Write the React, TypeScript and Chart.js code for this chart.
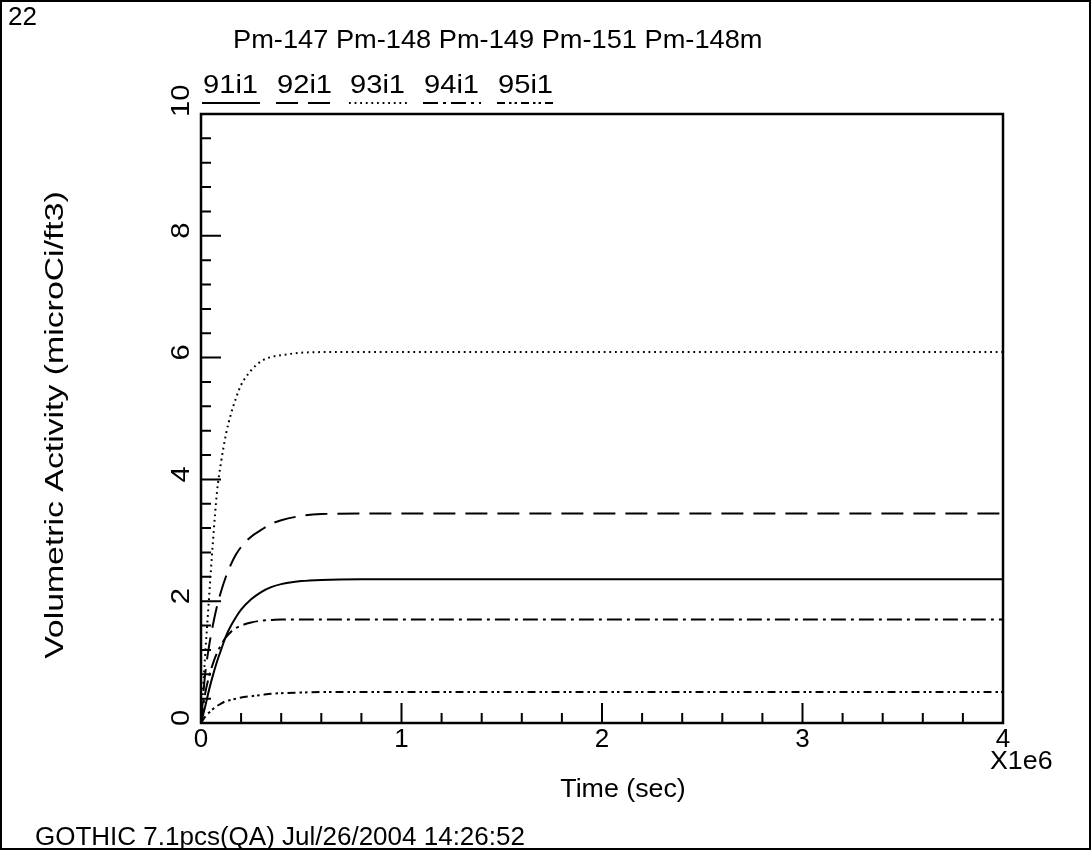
import { useEffect, useRef } from "react";
import { Chart, registerables } from "chart.js";

Chart.register(...registerables);

// Time points (sec) shared by all five curves
const timeSec = [
  0, 2e4, 4e4, 6e4, 8e4, 1e5, 1.25e5, 1.5e5, 1.75e5, 2e5, 2.5e5, 3e5, 3.5e5,
  4e5, 5e5, 6e5, 8e5, 1e6, 2e6, 3e6, 4e6,
];

// Volumetric activity (microCi/ft3)
const act91i1 = [
  0, 0.26, 0.54, 0.79, 1.01, 1.2, 1.43, 1.6, 1.74, 1.86, 2.03, 2.15, 2.23,
  2.28, 2.33, 2.35, 2.36, 2.36, 2.36, 2.36, 2.36,
];
const act92i1 = [
  0, 0.78, 1.26, 1.62, 1.92, 2.16, 2.41, 2.61, 2.77, 2.89, 3.06, 3.17, 3.27,
  3.33, 3.4, 3.43, 3.44, 3.44, 3.44, 3.44, 3.44,
];
const act93i1 = [
  0, 1.08, 2.05, 3.0, 3.8, 4.28, 4.75, 5.08, 5.34, 5.55, 5.79, 5.94, 6.01,
  6.04, 6.08, 6.09, 6.09, 6.09, 6.09, 6.09, 6.09,
];
const act94i1 = [
  0, 0.47, 0.76, 0.98, 1.15, 1.28, 1.41, 1.5, 1.56, 1.6, 1.65, 1.68, 1.69,
  1.7, 1.7, 1.7, 1.7, 1.7, 1.7, 1.7, 1.7,
];
const act95i1 = [
  0, 0.1, 0.17, 0.23, 0.28, 0.32, 0.36, 0.38, 0.4, 0.42, 0.44, 0.46, 0.48,
  0.49, 0.5, 0.51, 0.51, 0.51, 0.51, 0.51, 0.51,
];

const seriesNames = ["91i1", "92i1", "93i1", "94i1", "95i1"];
const seriesValues = [act91i1, act92i1, act93i1, act94i1, act95i1];
const seriesDashes: number[][] = [
  [],
  [22, 10],
  [1.8, 3.8],
  [15, 5, 3, 5],
  [8, 4, 2.5, 3, 2.5, 4],
];

const plotTitle = "Pm-147 Pm-148 Pm-149 Pm-151 Pm-148m";
const xAxisTitle = "Time (sec)";
const yAxisTitle = "Volumetric Activity (microCi/ft3)";
const xScaleNote = "X1e6";
const pageNumber = "22";
const footerText = "GOTHIC 7.1pcs(QA) Jul/26/2004 14:26:52";

const xMajorTicks = [0, 1, 2, 3, 4]; // in units of 1e6 sec
const yMajorTicks = [0, 2, 4, 6, 8, 10];
const xMinorStep = 0.2;
const yMinorStep = 0.4;

const FONT = '26px "Liberation Sans", Arial, sans-serif';

// draws text with a horizontal stretch factor along its own baseline
function stretchedText(
  ctx: CanvasRenderingContext2D,
  text: string,
  x: number,
  y: number,
  sx: number,
  align: CanvasTextAlign,
  angle = 0
) {
  ctx.save();
  ctx.translate(x, y);
  if (angle) ctx.rotate(angle);
  ctx.scale(sx, 1);
  ctx.textAlign = align;
  ctx.fillText(text, 0, 0);
  ctx.restore();
}

const decorations = {
  id: "gothicDecorations",
  beforeDraw(chart: Chart) {
    const ctx = chart.ctx;
    ctx.save();
    ctx.fillStyle = "#fff";
    ctx.fillRect(0, 0, chart.width, chart.height);
    ctx.restore();
  },
  afterDraw(chart: Chart) {
    const ctx = chart.ctx;
    const xs = chart.scales.x;
    const ys = chart.scales.y;
    const area = chart.chartArea;
    ctx.save();
    ctx.strokeStyle = "#000";
    ctx.fillStyle = "#000";

    // page frame
    ctx.lineWidth = 2;
    ctx.strokeRect(1, 1, chart.width - 3, chart.height - 3);

    // plot frame
    ctx.lineWidth = 2.5;
    ctx.strokeRect(area.left, area.top, area.right - area.left, area.bottom - area.top);

    // ticks (drawn inward)
    ctx.lineWidth = 2;
    ctx.beginPath();
    for (let v = 0; v <= 4 + 1e-9; v += xMinorStep) {
      const major = Math.abs(v - Math.round(v)) < 1e-6;
      const px = xs.getPixelForValue(v * 1e6);
      ctx.moveTo(px, area.bottom);
      ctx.lineTo(px, area.bottom - (major ? 20 : 10));
    }
    for (let v = 0; v <= 10 + 1e-9; v += yMinorStep) {
      const major = Math.abs(v / 2 - Math.round(v / 2)) < 1e-6;
      const py = ys.getPixelForValue(v);
      ctx.moveTo(area.left, py);
      ctx.lineTo(area.left + (major ? 20 : 10), py);
    }
    ctx.stroke();

    ctx.font = FONT;
    ctx.textBaseline = "alphabetic";

    // x tick labels
    for (const v of xMajorTicks) {
      stretchedText(ctx, String(v), xs.getPixelForValue(v * 1e6), area.bottom + 24, 1, "center");
    }
    stretchedText(ctx, xScaleNote, area.right - 13, area.bottom + 46, 1.03, "left");

    // y tick labels, rotated
    for (const v of yMajorTicks) {
      const py = ys.getPixelForValue(v);
      stretchedText(ctx, String(v), area.left - 12, py + 3, 1.12, "left", -Math.PI / 2);
    }

    // axis titles
    stretchedText(ctx, xAxisTitle, 623, area.bottom + 74, 1.03, "center");
    stretchedText(ctx, yAxisTitle, 63, 425, 1.3, "center", -Math.PI / 2);

    // header and footer
    stretchedText(ctx, pageNumber, 8, 25, 1, "left");
    stretchedText(ctx, plotTitle, 233, 48, 1.047, "left");
    stretchedText(ctx, footerText, 35, 845, 1, "left");

    // legend
    const legendX = [203, 277, 350, 424, 498];
    seriesNames.forEach((name, i) => {
      const x0 = legendX[i];
      stretchedText(ctx, name, x0, 93, 1.12, "left");
      ctx.save();
      ctx.lineWidth = 2;
      ctx.setLineDash(seriesDashes[i]);
      ctx.beginPath();
      ctx.moveTo(x0 - 1, 103);
      ctx.lineTo(x0 + 57, 103);
      ctx.stroke();
      ctx.restore();
    });

    ctx.restore();
  },
};

export default function App() {
  const canvasRef = useRef<HTMLCanvasElement | null>(null);

  useEffect(() => {
    const canvas = canvasRef.current;
    if (!canvas) return;
    const chart = new Chart(canvas, {
      type: "line",
      data: {
        datasets: seriesNames.map((name, i) => ({
          label: name,
          data: timeSec.map((t, k) => ({ x: t, y: seriesValues[i][k] })),
          borderColor: "#000",
          borderWidth: 2,
          borderDash: seriesDashes[i],
          pointRadius: 0,
          fill: false,
          cubicInterpolationMode: "monotone" as const,
        })),
      },
      options: {
        responsive: false,
        animation: false,
        layout: { padding: { left: 201, right: 89, top: 114, bottom: 128 } },
        plugins: {
          legend: { display: false },
          tooltip: { enabled: false },
          title: { display: false },
        },
        scales: {
          x: { type: "linear", min: 0, max: 4e6, display: false },
          y: { type: "linear", min: 0, max: 10, display: false },
        },
      },
      plugins: [decorations],
    });
    return () => chart.destroy();
  }, []);

  return (
    <div style={{ position: "absolute", left: 0, top: 0, width: 1092, height: 851 }}>
      <canvas ref={canvasRef} width={1092} height={851} style={{ display: "block" }} />
    </div>
  );
}
